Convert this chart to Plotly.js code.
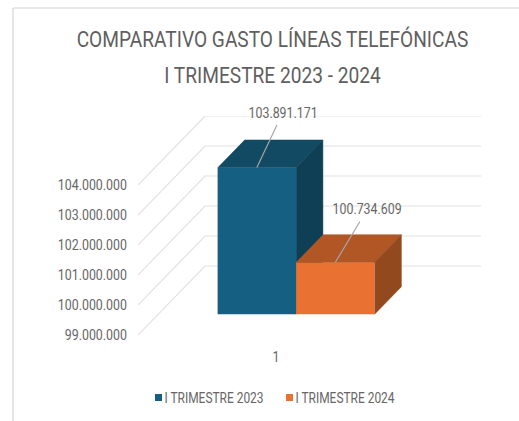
<!DOCTYPE html>
<html><head><meta charset="utf-8">
<script src="https://cdn.plot.ly/plotly-3.0.1.min.js"></script>
<style>html,body{margin:0;padding:0;background:#fff}#c{width:519px;height:421px}</style>
</head><body><div id="c"></div>
<script>
const category = [1];
const series2023 = [103891171];
const series2024 = [100734609];
const seriesNames = ['I TRIMESTRE 2023', 'I TRIMESTRE 2024'];
const axisTicks = [99000000, 100000000, 101000000, 102000000, 103000000, 104000000];

const W = 519, H = 421, ML = 138, MR = 38, MT = 116, MB = 86;
const FONT = 'Roboto,"Open Sans",sans-serif';
const AXMIN = 99000000, AXMAX = 106300000, XMIN = 0.5, XMAX = 1.7428;
const DX = 0.2428, DY = 2300000;              // oblique projection of the depth axis
const T0 = 0.3, T1 = 0.7, BW = 0.2844;        // bar depth span, bar width
const P = (x, v, t) => [x + t * DX, v + t * DY];
const fmt = v => Math.round(v).toString().replace(/\B(?=(\d{3})+$)/g, '.');
const F = (size, color) => ({family:FONT, size:size, color:color});

function poly(pts, color, z) {
  return {type:'scatter', mode:'lines', x:pts.map(p=>p[0]), y:pts.map(p=>p[1]), fill:'toself',
    fillcolor:color, line:{color:color, width:0.5}, hoverinfo:'skip', showlegend:false, zorder:z, cliponaxis:false};
}
function bar3d(xc, v, name, front, top, side, z) {
  const xl = xc - BW/2, xr = xc + BW/2;
  return [
    {type:'bar', name:name, x:[P(xc,0,T0)[0]], y:[v-AXMIN], base:[AXMIN+T0*DY], width:[BW], showlegend:false,
     marker:{color:front, line:{width:0}}, hoverinfo:'skip', zorder:z},
    poly([P(xl,v,T0),P(xr,v,T0),P(xr,v,T1),P(xl,v,T1)], top, z+1),
    poly([P(xr,v,T0),P(xr,v,T1),P(xr,AXMIN,T1),P(xr,AXMIN,T0)], side, z+1),
    {type:'scatter', mode:'markers', name:name, x:[null], y:[null], hoverinfo:'skip',
     marker:{symbol:'square', size:7, color:front, line:{width:0}}}
  ];
}

const gx = [], gy = [];
axisTicks.forEach(v => {
  gx.push(XMIN, XMIN+DX, XMAX, null);
  gy.push(v, v+DY, v+DY, null);
});
const grid = {type:'scatter', mode:'lines', x:gx, y:gy, line:{color:'#e2e2e2', width:1.2},
  hoverinfo:'skip', showlegend:false, zorder:0};

const c0 = category[0] - BW/2, c1 = category[0] + BW/2;
const traces = [grid,
  ...bar3d(c0, series2023[0], seriesNames[0], '#156082', '#114a62', '#0e3f54', 1),
  ...bar3d(c1, series2024[0], seriesNames[1], '#E97132', '#b05725', '#93491e', 3)];

function label(xc, v, ax, ay) {
  const p = P(xc, v, T0);
  return {x:p[0], y:p[1], xref:'x', yref:'y', text:fmt(v), showarrow:true, arrowhead:0, arrowwidth:1.2,
    arrowcolor:'#a6a6a6', ax:ax, ay:ay, borderpad:4, font:F(14,'#666')};
}
const px = x => (x-ML)/(W-ML-MR), py = y => 1-(y-MT)/(H-MT-MB);
const layout = {
  width:W, height:H, paper_bgcolor:'#fff', plot_bgcolor:'rgba(0,0,0,0)',
  margin:{l:ML, r:MR, t:MT, b:MB, pad:0, autoexpand:false}, separators:',.', barmode:'overlay',
  title:{text:'COMPARATIVO GASTO LÍNEAS TELEFÓNICAS', x:272.5/W, xanchor:'center', y:1-39/H, yanchor:'middle', yref:'container',
    font:F(22,'#5f5f5f'),
    subtitle:{text:'I TRIMESTRE 2023 - 2024', font:F(22,'#5f5f5f')}},
  xaxis:{range:[XMIN,XMAX], tickmode:'array', tickvals:category, ticktext:category.map(String), showgrid:false, zeroline:false,
    showline:false, ticks:'', ticklabelstandoff:12, tickfont:F(14,'#666'), fixedrange:true},
  yaxis:{range:[AXMIN,AXMAX], tickmode:'array', tickvals:axisTicks, tickformat:',d', showgrid:false, zeroline:false,
    showline:false, ticks:'', ticklabelstandoff:10, tickfont:F(14,'#666'), fixedrange:true},
  legend:{orientation:'h', x:px(138.5), xanchor:'left', y:py(398), yanchor:'middle', font:F(14,'#666'),
    entrywidth:86, entrywidthmode:'pixels', traceorder:'normal',
    itemclick:false, itemdoubleclick:false, bgcolor:'rgba(0,0,0,0)'},
  shapes:[
    {type:'line', xref:'paper', yref:'paper', x0:px(13), x1:px(13), y0:py(8), y1:py(421), line:{color:'#d4d4d4', width:1.2}},
    {type:'line', xref:'paper', yref:'paper', x0:px(13), x1:px(519), y0:py(8), y1:py(8), line:{color:'#d4d4d4', width:1.2}}
  ],
  annotations:[label(c0, series2023[0], 26, -55), label(c1, series2024[0], 32, -53)]
};

// The reference uses a condensed face; none is installed, so real text is narrowed about its anchor.
function condense(sel, k) {
  document.querySelectorAll(sel).forEach(t => {
    const x = parseFloat(t.getAttribute('x')) || 0;
    const prev = t.getAttribute('transform') || '';
    t.setAttribute('transform', `${prev} translate(${x},0) scale(${k},1) translate(${-x},0)`.trim());
  });
}
Plotly.newPlot('c', traces, layout, {displayModeBar:false, staticPlot:true}).then(() => {
  document.querySelectorAll('.legendtext').forEach(t => t.setAttribute('x', 26));
  const sub = document.querySelector('.gtitle-subtitle');
  if (sub) sub.setAttribute('y', parseFloat(sub.getAttribute('y')) - 12);
  condense('.gtitle, .gtitle-subtitle', 0.87);
  condense('.xtick text, .ytick text', 0.886);
  condense('.annotation-text', 0.885);
  condense('.legendtext', 0.853);
});
</script></body></html>
